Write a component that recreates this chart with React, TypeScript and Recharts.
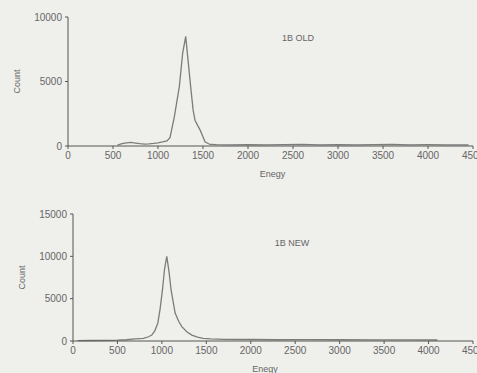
import React from 'react';
import { LineChart, Line, XAxis, YAxis, Label } from 'recharts';

const xTicks = [0, 500, 1000, 1500, 2000, 2500, 3000, 3500, 4000, 4500];
const oldTicksY = [0, 5000, 10000];
const newTicksY = [0, 5000, 10000, 15000];

const oldEnergy = [550, 600, 650, 700, 750, 800, 850, 900, 950, 1000, 1050, 1100, 1133, 1180, 1237, 1274, 1308, 1326, 1363, 1390, 1411, 1440, 1467, 1495, 1522, 1578, 1650, 1800, 2000, 2200, 2400, 2600, 2800, 3000, 3200, 3400, 3600, 3800, 4000, 4200, 4450];
const oldCount = [60, 180, 250, 280, 230, 180, 150, 170, 200, 250, 320, 400, 650, 2200, 4600, 7200, 8500, 7200, 4600, 2800, 2000, 1600, 1250, 800, 330, 120, 100, 90, 110, 80, 100, 120, 90, 110, 80, 100, 120, 90, 100, 80, 90];

const newEnergy = [50, 200, 400, 500, 600, 700, 792, 850, 886, 920, 954, 980, 1006, 1030, 1055, 1080, 1104, 1149, 1190, 1224, 1280, 1337, 1400, 1464, 1550, 1700, 2000, 2300, 2600, 3000, 3400, 3800, 4100];
const newCount = [50, 60, 80, 100, 150, 250, 320, 500, 700, 1200, 2100, 3800, 6000, 8500, 10000, 8200, 6000, 3300, 2300, 1700, 1100, 700, 450, 320, 250, 200, 180, 150, 160, 150, 140, 130, 120];

const oldData = oldEnergy.map((e, i) => ({ e, c: oldCount[i] }));
const newData = newEnergy.map((e, i) => ({ e, c: newCount[i] }));

const FONT = 'Liberation Sans, Arial, sans-serif';
const TXT = '#666';
const AXIS = '#555';
const LINE = '#7c7c7c';
const tickStyle = { fontSize: 10, fill: TXT, fontFamily: FONT };

const countLabel = (props: any) => {
  const vb = props.viewBox;
  return (
    <text
      transform={`translate(${vb.x + props.dxx}, ${vb.y + vb.height / 2}) rotate(-90)`}
      textAnchor="middle"
      dominantBaseline="central"
      fontSize={9}
      fill={TXT}
      fontFamily={FONT}
    >
      Count
    </text>
  );
};

function Panel(props: { data: any[]; yTicks: number[]; yMax: number; width: number; height: number; top: number; bottom: number; left: number; xh: number; title: string; titleX: number; titleY: number; countX: number; labelDx: number }) {
  return (
    <div style={{ position: 'relative', width: props.width, height: props.height }}>
      <LineChart width={props.width} height={props.height} data={props.data} margin={{ top: props.top, right: 4, left: 0, bottom: props.bottom }}>
        <XAxis
          dataKey="e"
          type="number"
          domain={[0, 4500]}
          ticks={xTicks}
          tick={tickStyle}
          tickSize={3}
          tickMargin={3}
          stroke={AXIS}
          height={props.xh}
          interval={0}
          allowDataOverflow
        >
          <Label value="Enegy" position="insideBottom" offset={1} dx={props.labelDx} style={{ fontSize: 9, fill: TXT, fontFamily: FONT }} />
        </XAxis>
        <YAxis
          type="number"
          domain={[0, props.yMax]}
          ticks={props.yTicks}
          tick={tickStyle}
          tickSize={3}
          tickMargin={3}
          stroke={AXIS}
          width={props.left}
          interval={0}
        >
          <Label content={(p: any) => countLabel({ ...p, dxx: props.countX })} />
        </YAxis>
        <Line dataKey="c" type="linear" stroke={LINE} strokeWidth={1.3} dot={false} isAnimationActive={false} />
      </LineChart>
      <div style={{ position: 'absolute', left: props.titleX, top: props.titleY, transform: 'translate(-50%, -50%)', fontSize: 9, color: TXT, fontFamily: FONT, whiteSpace: 'nowrap' }}>{props.title}</div>
    </div>
  );
}

export default function App() {
  return (
    <div style={{ position: 'absolute', left: 0, top: 0, width: 477, height: 373, background: '#efefec', overflow: 'hidden' }}>
      <Panel data={oldData} yTicks={oldTicksY} yMax={10000} width={477} height={190} top={17} bottom={12} left={68} xh={32} title="1B OLD" titleX={298} titleY={38} countX={17} labelDx={2} />
      <Panel data={newData} yTicks={newTicksY} yMax={15000} width={477} height={183} top={24} bottom={0} left={73} xh={32} title="1B NEW" titleX={292} titleY={53} countX={22} labelDx={-8} />
    </div>
  );
}
